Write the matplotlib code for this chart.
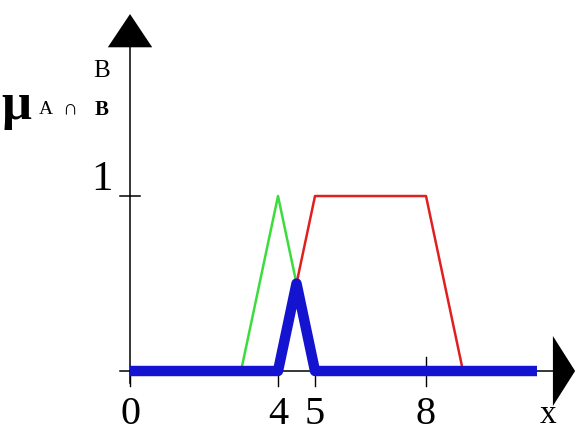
import matplotlib
matplotlib.use("Agg")
import matplotlib.pyplot as plt

# fuzzy sets A (green), B (red) and their intersection (blue)
x_a = [3, 4, 5]
mu_a = [0, 1, 0]
x_b = [4, 5, 8, 9]
mu_b = [0, 1, 1, 0]
x_ab = [0, 4, 4.5, 5, 11]
mu_ab = [0, 0, 0.5, 0, 0]

x_ticks = [0, 4, 5, 8]
x_tick_labels = ["0", "4", "5", "8"]

serif = ["Liberation Serif", "DejaVu Serif"]

fig = plt.figure(figsize=(5.76, 4.35), dpi=100)
ax = fig.add_axes([0, 0, 1, 1])
ax.set_xlim(-3.514, 12.054)
ax.set_ylim(-0.36, 2.126)
ax.axis("off")

# axes with arrow heads
ax.plot([-0.27, 11.45], [0, 0], color="black", lw=1.1, zorder=1)
ax.plot([0, 0], [-0.07, 1.86], color="black", lw=1.1, zorder=1)
ax.fill([11.43, 11.43, 12.03], [0.2, -0.2, 0], color="black", lw=0, zorder=1)
ax.fill([-0.6, 0.6, 0], [1.85, 1.85, 2.04], color="black", lw=0, zorder=1)

for t, lab in zip(x_ticks, x_tick_labels):
    top = 0.08 if t == 8 else 0
    ax.plot([t, t], [-0.086, top], color="black", lw=1.0, zorder=1)
    ax.text(t, -0.24, lab, ha="center", va="center", fontsize=29,
            family=serif)
ax.plot([-0.27, 0.27], [1, 1], color="black", lw=1.1, zorder=1)
ax.text(-0.76, 1.10, "1", ha="center", va="center", fontsize=31,
        family=serif)
ax.text(11.3, -0.245, "x", ha="center", va="center", fontsize=24,
        family=serif)

# y label
ax.text(-3.08, 1.52, "\u03bc", ha="center", va="center", fontsize=38,
        fontweight="bold", family=serif)
ax.text(-2.27, 1.50, "A", ha="center", va="center", fontsize=14,
        family=serif)
ax.text(-1.62, 1.50, "\u2229", ha="center", va="center", fontsize=15,
        family=serif)
ax.text(-0.78, 1.50, "B", ha="center", va="center", fontsize=15,
        fontweight="bold", family=serif)
ax.text(-0.78, 1.72, "B", ha="center", va="center", fontsize=18,
        family=serif)

ax.plot(x_a, mu_a, color="#3ddc3d", lw=1.8, zorder=2)
ax.plot(x_b, mu_b, color="#e02020", lw=1.8, zorder=2)
ax.plot(x_ab, mu_ab, color="#1414d0", lw=7.5, solid_capstyle="butt",
        solid_joinstyle="round", zorder=3)

fig.savefig("out.png", dpi=100)
